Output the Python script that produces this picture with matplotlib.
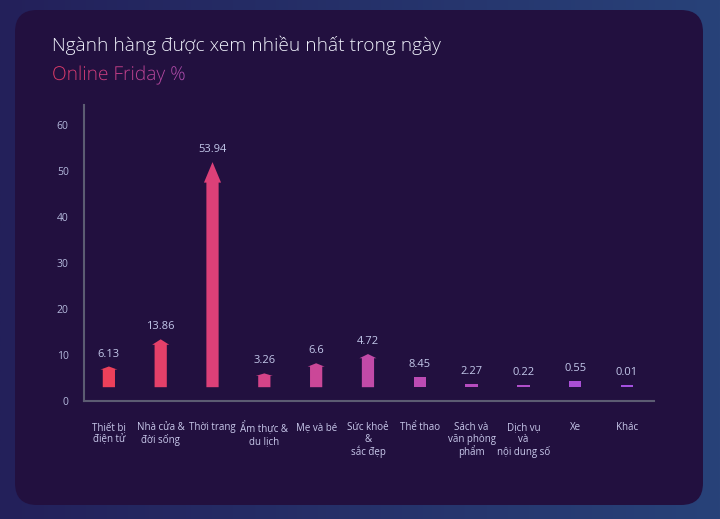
import numpy as np
import matplotlib.pyplot as plt
from matplotlib.patches import FancyBboxPatch, Polygon, PathPatch
from matplotlib.colors import LinearSegmentedColormap
from matplotlib.textpath import TextPath
from matplotlib.font_manager import FontProperties
from matplotlib.transforms import Affine2D

plt.rcParams['font.family'] = ['Open Sans', 'DejaVu Sans']

# ---------------- Data ----------------
categories = ["Thiết bị\nđiện tử", "Nhà cửa &\nđời sống", "Thời trang", "Ẩm thực &\ndu lịch",
              "Mẹ và bé", "Sức khoẻ\n&\nsắc đẹp", "Thể thao", "Sách và\nvăn phòng\nphẩm",
              "Dịch vụ\nvà\nnội dung số", "Xe", "Khác"]
value_labels = ["6.13", "13.86", "53.94", "3.26", "6.6", "4.72", "8.45", "2.27", "0.22", "0.55", "0.01"]
# arrow tops as drawn on the y scale (they start from 3, not 0)
bar_base = 3.0
bar_tops = [7.5, 13.4, 51.9, 6.0, 8.2, 10.2, 5.3, 3.7, 3.5, 4.3, 3.5]
y_ticks = [0, 10, 20, 30, 40, 50, 60]

title = "Ngành hàng được xem nhiều nhất trong ngày"
subtitle = "Online Friday %"

# ---------------- Figure + background ----------------
W, H = 720, 519
fig = plt.figure(figsize=(W / 100, H / 100), dpi=100)

bg = fig.add_axes([0, 0, 1, 1])
bg.axis('off')
bg_cmap = LinearSegmentedColormap.from_list('bg', ['#23205a', '#284279'])
bg.imshow(np.linspace(0, 1, 256).reshape(1, -1), cmap=bg_cmap, aspect='auto',
          extent=(0, W, H, 0), zorder=0)
panel = FancyBboxPatch((15, 10), 688, 495, boxstyle="round,pad=0,rounding_size=22",
                       fc='#22103f', ec='none', zorder=1)
bg.add_patch(panel)

fig.text(52 / W, 1 - 45 / H, title, color='#eef0fa', fontsize=13.8, va='center',
         ha='left', fontweight='light')

# subtitle with a red -> purple gradient fill
fp = FontProperties(family='Open Sans', weight='light')
tp = TextPath((0, 0), subtitle, size=13.8 * 100 / 72, prop=fp)
ext = tp.get_extents()
sx, sy = 52, 80
tr = Affine2D().scale(1, -1).translate(sx, sy) + bg.transData
sub_patch = PathPatch(tp, transform=tr, fc='none', ec='none')
bg.add_patch(sub_patch)
sub_cmap = LinearSegmentedColormap.from_list('sub', ['#dc3a66', '#c8408a', '#a84cac'])
grad = bg.imshow(np.linspace(0, 1, 256).reshape(1, -1), cmap=sub_cmap, aspect='auto',
                 extent=(sx + ext.x0, sx + ext.x1, sy - ext.y0 + 2, sy - ext.y1 - 2), zorder=3)
grad.set_clip_path(sub_patch)
bg.set_xlim(0, W)
bg.set_ylim(H, 0)

# ---------------- Chart ----------------
ax = fig.add_axes([84 / W, 118 / H, 570 / W, 296 / H])
ax.patch.set_alpha(0)
ax.set_xlim(-0.48, len(categories) - 0.48)
ax.set_ylim(0, 64.3)

bar_cmap = LinearSegmentedColormap.from_list(
    'bars', [(0, '#ec405a'), (0.2, '#dc4078'), (0.5, '#c24aa8'), (1, '#a450e0')])
colors = [bar_cmap(i / (len(categories) - 1)) for i in range(len(categories))]

body_w = 0.118
head_w = 0.165
for i, top in enumerate(bar_tops):
    h = top - bar_base
    if h < 2.5:
        pts = [(i - body_w, bar_base), (i + body_w, bar_base), (i + body_w, top), (i - body_w, top)]
    else:
        head = 0.085 * h + 0.3
        neck = top - head
        pts = [(i - body_w, bar_base), (i + body_w, bar_base), (i + body_w, neck),
               (i + head_w, neck), (i, top), (i - head_w, neck), (i - body_w, neck)]
    ax.add_patch(Polygon(pts, closed=True, fc=colors[i], ec='none'))
    ax.annotate(value_labels[i], (i, top), xytext=(0, 5), textcoords='offset points',
                ha='center', va='bottom', color='#c3c8ea', fontsize=8)

for s in ['top', 'right']:
    ax.spines[s].set_visible(False)
for s in ['left', 'bottom']:
    ax.spines[s].set_color('#5c5c72')
    ax.spines[s].set_linewidth(1.5)

ax.set_yticks(y_ticks)
ax.tick_params(axis='y', length=0, pad=11, labelcolor='#b4b9dc', labelsize=7.5)
ax.set_xticks(range(len(categories)))
ax.set_xticklabels(categories, linespacing=1.1)
ax.tick_params(axis='x', length=0, pad=15, labelcolor='#c8c8ea', labelsize=7)

fig.savefig('out.png', dpi=100)
